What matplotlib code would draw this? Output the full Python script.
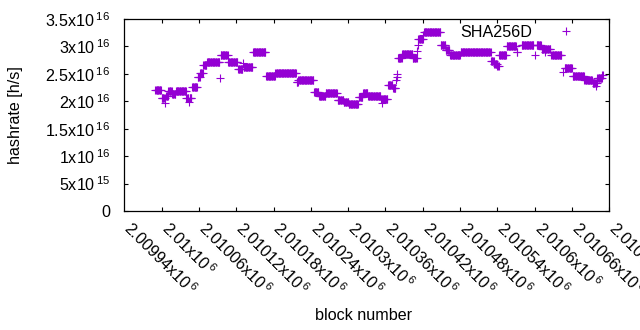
import matplotlib
matplotlib.use('Agg')
import matplotlib.pyplot as plt
import numpy as np
import matplotlib.transforms as mtransforms

plt.rcParams['font.family'] = ['Liberation Sans', 'DejaVu Sans']
plt.rcParams['mathtext.fontset'] = 'custom'
plt.rcParams['mathtext.rm'] = 'Liberation Sans'
plt.rcParams['mathtext.it'] = 'Liberation Sans:italic'
plt.rcParams['mathtext.bf'] = 'Liberation Sans:bold'

# ---- data: runs of blocks with constant hashrate (units of 1e16 h/s) ----
seg_start = [2009930, 2009940, 2009946, 2009947, 2009951, 2009957, 2009963, 2009980, 2009984, 2009985,
             2009989, 2009998, 2010002, 2010007, 2010013, 2010034, 2010035, 2010047, 2010063, 2010071,
             2010072, 2010087, 2010108, 2010123, 2010157, 2010160, 2010185, 2010193, 2010204, 2010223,
             2010233, 2010241, 2010257, 2010264, 2010272, 2010293, 2010294, 2010295, 2010304, 2010312,
             2010317, 2010318, 2010319, 2010320, 2010327, 2010344, 2010351, 2010352, 2010353, 2010361,
             2010362, 2010389, 2010397, 2010404, 2010421, 2010470, 2010475, 2010480, 2010483, 2010495,
             2010511, 2010519, 2010540, 2010543, 2010551, 2010556, 2010557, 2010567, 2010586, 2010588,
             2010601, 2010620, 2010633, 2010638, 2010639, 2010641, 2010649]
seg_end = [2009939, 2009945, 2009946, 2009950, 2009956, 2009962, 2009979, 2009983, 2009984, 2009988,
           2009997, 2010001, 2010006, 2010012, 2010033, 2010034, 2010046, 2010062, 2010070, 2010071,
           2010086, 2010107, 2010122, 2010156, 2010159, 2010184, 2010192, 2010203, 2010222, 2010232,
           2010240, 2010256, 2010263, 2010271, 2010292, 2010293, 2010294, 2010303, 2010311, 2010316,
           2010317, 2010318, 2010319, 2010326, 2010343, 2010350, 2010351, 2010352, 2010360, 2010361,
           2010388, 2010396, 2010403, 2010420, 2010469, 2010474, 2010479, 2010482, 2010494, 2010510,
           2010512, 2010538, 2010540, 2010550, 2010555, 2010556, 2010565, 2010583, 2010586, 2010600,
           2010619, 2010632, 2010637, 2010638, 2010640, 2010648, 2010650]
seg_value = [2.20, 2.06, 1.96, 2.10, 2.19, 2.14, 2.18, 2.06, 1.99, 2.06,
             2.255, 2.45, 2.52, 2.66, 2.71, 2.42, 2.85, 2.71, 2.59, 2.69,
             2.62, 2.89, 2.455, 2.51, 2.36, 2.39, 2.175, 2.10, 2.145, 2.03,
             1.99, 1.95, 2.07, 2.145, 2.09, 2.04, 1.97, 2.04, 2.30, 2.24,
             2.38, 2.44, 2.49, 2.79, 2.87, 2.78, 2.92, 3.02, 3.13, 3.20,
             3.27, 3.03, 2.93, 2.84, 2.90, 2.73, 2.68, 2.65, 2.84, 3.00,
             2.89, 3.02, 2.84, 3.02, 2.96, 2.90, 2.96, 2.84, 2.54, 2.60,
             2.47, 2.39, 2.34, 2.28, 2.34, 2.43, 2.48]

x_ticks = [2009940, 2010000, 2010060, 2010120, 2010180, 2010240, 2010300,
           2010360, 2010420, 2010480, 2010540, 2010600, 2010660, 2010720]
y_ticks = [0, 5e15, 1e16, 1.5e16, 2e16, 2.5e16, 3e16, 3.5e16]
x_range = (2009880, 2010660)
y_range = (0, 3.5e16)
series_label = 'SHA256D'

blocks = np.concatenate([np.arange(s, e + 1) for s, e in zip(seg_start, seg_end)])
hashrate = np.concatenate([np.full(e - s + 1, v * 1e16) for s, e, v in zip(seg_start, seg_end, seg_value)])

FS = 11.6
color = '#9400D3'

fig = plt.figure(figsize=(6.4, 3.3), dpi=100)
ax = fig.add_axes([124.3 / 640, (330 - 211) / 330, 485 / 640, 192 / 330])

ax.plot(blocks, hashrate, linestyle='none', marker='+', ms=5.2, mew=0.8,
        color=color, label=series_label)

ax.set_xlim(*x_range)
ax.set_ylim(*y_range)


def xfmt(v):
    return f'{v / 1e6:g}x10$\\,^{{6}}$'


def yfmt(v):
    if v == 0:
        return '0'
    e = int(np.floor(np.log10(v) + 1e-9))
    m = v / 10 ** e
    return f'{m:g}x10$\\,^{{{e}}}$'


in_x = [t for t in x_ticks if x_range[0] <= t <= x_range[1]]
ax.set_xticks(in_x)
ax.set_yticks(y_ticks)
ax.set_yticklabels([yfmt(t) for t in y_ticks], fontsize=FS)

ax.tick_params(axis='both', which='both', direction='in', length=3.2, width=0.8,
               top=True, right=True, colors='black')
ax.tick_params(axis='y', pad=10)
ax.tick_params(axis='x', labelbottom=False)

# rotated x tick labels (gnuplot style: text starts left of the tick and runs down-right)
trans = mtransforms.blended_transform_factory(ax.transData, ax.transAxes) + \
    mtransforms.ScaledTranslation(-0.39, -0.185, fig.dpi_scale_trans)
for t in x_ticks:
    ax.text(t, 0, xfmt(t), transform=trans, fontsize=FS, rotation=-45,
            ha='left', va='baseline', rotation_mode='anchor', clip_on=False)

for sp in ax.spines.values():
    sp.set_linewidth(0.9)
    sp.set_color('black')

ax.set_ylabel('hashrate [h/s]', fontsize=FS, va='center')
ax.yaxis.set_label_coords((16 - 124.3) / 485, 0.5)
ax.set_xlabel('block number', fontsize=FS, va='center')
ax.xaxis.set_label_coords((364 - 124.3) / 485, (211 - 316) / 192)

leg = ax.legend(loc='upper right', bbox_to_anchor=((588.8 - 124.3) / 485, (211 - 18.6) / 192),
                borderaxespad=0, frameon=False, markerfirst=False, fontsize=FS,
                handlelength=2.0, handletextpad=1.1, numpoints=1)

fig.savefig('out.png', dpi=100)
